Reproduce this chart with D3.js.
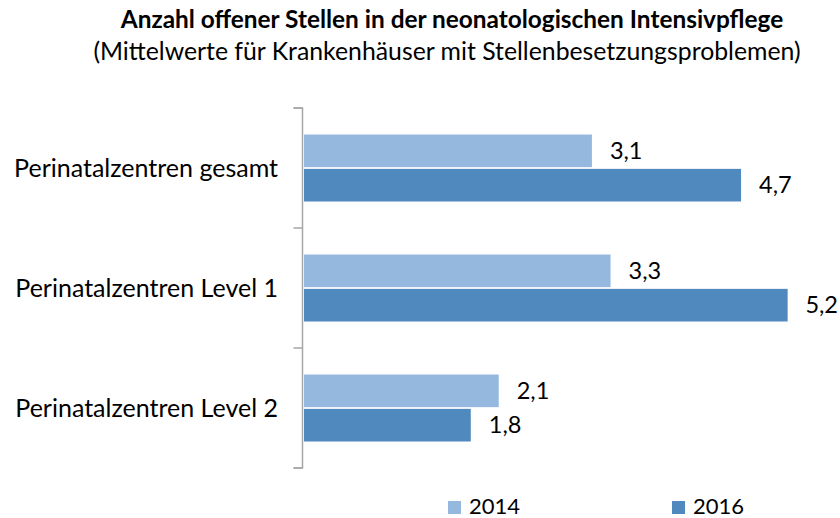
<!DOCTYPE html>
<html>
<head>
<meta charset="utf-8">
<script src="https://cdn.jsdelivr.net/npm/d3@7"></script>
<style>
  body { margin: 0; background: #fff; }
  svg text { font-family: Lato, "Noto Sans", sans-serif; fill: #000; }
</style>
</head>
<body>
<svg id="chart" width="840" height="518"></svg>
<script>
// data
const categories = ['Perinatalzentren gesamt', 'Perinatalzentren Level 1', 'Perinatalzentren Level 2']
const years = ['2014', '2016']
const values2014 = [3.1, 3.3, 2.1]
const values2016 = [4.7, 5.2, 1.8]
const colors = ['#95b8df', '#4f89bd']

const rows = categories.map((c, i) => ({
  name: c,
  values: [
    {year: '2014', value: values2014[i]},
    {year: '2016', value: values2016[i]}
  ]
}))

const svg = d3.select('#chart'),
      width = +svg.attr('width'),
      height = +svg.attr('height');

const margin = {top: 108, left: 303}
const plotH = 360

const x = d3.scaleLinear().domain([0, 1]).range([margin.left, margin.left + 93.2])
const y = d3.scaleBand().domain(categories).range([margin.top, margin.top + plotH])
    .paddingInner(0.442).paddingOuter(0.221)
const y1 = d3.scaleBand().domain(years).range([0, y.bandwidth()]).paddingInner(0.05)
const color = d3.scaleOrdinal(years, colors)
const fmt = v => d3.format('.1f')(v).replace('.', ',')

// title
svg.append('text')
    .attr('x', 452).attr('y', 28)
    .attr('text-anchor', 'middle')
    .attr('font-size', 24.4).attr('font-weight', 'bold')
    .text('Anzahl offener Stellen in der neonatologischen Intensivpflege')
svg.append('text')
    .attr('x', 447).attr('y', 60)
    .attr('text-anchor', 'middle')
    .attr('font-size', 24.8)
    .text('(Mittelwerte für Krankenhäuser mit Stellenbesetzungsproblemen)')

// axis
const axis = d3.axisLeft(y).tickSize(9).tickSizeOuter(9).tickFormat('')
const gAxis = svg.append('g')
    .attr('transform', `translate(${margin.left - 0.5},0)`)
    .call(axis)
gAxis.select('.domain').attr('stroke', '#a6a6a6').attr('stroke-width', 1.5)
// excel puts ticks between categories, not at centers
gAxis.selectAll('.tick').remove()
const bounds = d3.range(categories.length + 1).map(i => margin.top + i * y.step())
gAxis.selectAll('.sep').data(bounds).enter().append('line')
    .attr('class', 'sep')
    .attr('x1', -9).attr('x2', 0)
    .attr('y1', d => d).attr('y2', d => d)
    .attr('stroke', '#a6a6a6').attr('stroke-width', 1.5)
gAxis.select('.domain').attr('d', `M-9,${bounds[0]}H0V${bounds[3]}H-9`)

// category labels
svg.append('g').selectAll('text').data(categories).enter().append('text')
    .attr('x', 278)
    .attr('y', d => y(d) + y.bandwidth() / 2)
    .attr('dy', '0.35em')
    .attr('text-anchor', 'end')
    .attr('font-size', 25)
    .text(d => d)

// bars
const groups = svg.append('g').selectAll('g').data(rows).enter().append('g')
    .attr('transform', d => `translate(0,${y(d.name)})`)

groups.selectAll('rect').data(d => d.values).enter().append('rect')
    .attr('x', x(0) + 1)
    .attr('y', d => y1(d.year))
    .attr('width', d => x(d.value) - x(0) - 1)
    .attr('height', y1.bandwidth())
    .attr('fill', d => color(d.year))

groups.selectAll('text').data(d => d.values).enter().append('text')
    .attr('x', d => x(d.value) + 18)
    .attr('y', d => y1(d.year) + y1.bandwidth() / 2)
    .attr('dy', '0.35em')
    .attr('font-size', 23.5)
    .text(d => fmt(d.value))
    .each(function() {
      // keep the label inside the picture
      const w = this.getComputedTextLength()
      const lx = +d3.select(this).attr('x')
      if (lx + w > width - 2) d3.select(this).attr('x', width - 2 - w)
    })

// legend
const legendX = [448, 672]
const legend = svg.append('g').selectAll('g').data(years).enter().append('g')
    .attr('transform', (d, i) => `translate(${legendX[i]},506)`)
legend.append('rect')
    .attr('x', 0).attr('y', -5)
    .attr('width', 13).attr('height', 13)
    .attr('fill', d => color(d))
legend.append('text')
    .attr('x', 21).attr('dy', '0.35em')
    .attr('font-size', 22)
    .text(d => d)
</script>
</body>
</html>
